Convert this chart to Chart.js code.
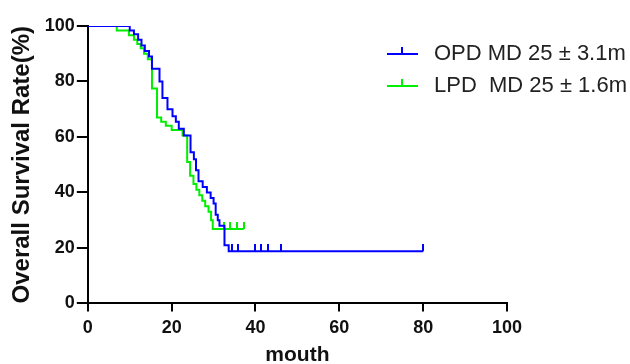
<!DOCTYPE html>
<html>
<head>
  <title>Overall Survival</title>
  <script src="https://cdn.jsdelivr.net/npm/chart.js"></script>
  <style>
    body { margin: 0; background: #fff; }
    #wrap { width: 630px; height: 364px; }
  </style>
</head>
<body>
  <div id="wrap"><canvas id="survChart"></canvas></div>

  <script>
    // Kaplan-Meier steps (month, survival % after the drop)
    const opdMonths   = [0, 10.0, 11.0, 12.0, 12.8, 13.6, 14.6, 15.3, 17.1, 17.8, 19.0, 20.2, 21.0, 21.7, 22.9, 24.5, 25.3, 25.8, 26.4, 27.4, 28.4, 29.3, 30.0, 30.5, 31.0, 31.4, 32.6, 33.6, 80];
    const opdSurvival = [100, 98.4, 97, 95, 93, 91, 89, 84.6, 80, 74, 70, 67.5, 65.5, 63, 60.5, 54.5, 52, 48, 44, 42, 40, 38, 36, 32, 30, 28, 21, 18.8, 18.8];
    const lpdMonths   = [0, 6.9, 9.8, 11.0, 11.8, 12.6, 13.4, 14.3, 15.3, 16.5, 17.5, 18.6, 20.0, 22.6, 23.7, 24.4, 25.2, 25.9, 26.6, 27.3, 28.0, 28.8, 29.4, 29.8, 37.2];
    const lpdSurvival = [100, 98.4, 96.7, 95, 93.5, 92, 90, 88, 77.5, 67, 65.5, 64, 62.5, 60.5, 51, 46, 43, 41, 39, 37, 35, 33, 30, 26.8, 26.8];

    // censored observations
    const opdCensorMonths   = [34.5, 35.8, 40.0, 41.2, 43.0, 46.0, 80.0];
    const opdCensorSurvival = [18.8, 18.8, 18.8, 18.8, 18.8, 18.8, 18.8];
    const lpdCensorMonths   = [32.5, 34.0, 35.6, 37.2];
    const lpdCensorSurvival = [26.8, 26.8, 26.8, 26.8];

    const xTicks = [0, 20, 40, 60, 80, 100];
    const yTicks = [0, 20, 40, 60, 80, 100];

    const seriesLabels = ['OPD MD 25 \u00b1 3.1m', 'LPD  MD 25 \u00b1 1.6m'];
    const blue = '#0000ff';
    const green = '#00ee00';

    const toPoints = (xs, ys) => xs.map((x, i) => ({ x: x, y: ys[i] }));

    // small upward tick used as the censor mark
    function censorMark(color) {
      const c = document.createElement('canvas');
      c.width = 2;
      c.height = 14;
      const g = c.getContext('2d');
      g.fillStyle = color;
      g.fillRect(0, 0, 2, 7);
      return c;
    }

    // legend drawn inside the chart area, top right
    const kmLegend = {
      id: 'kmLegend',
      afterDraw(chart) {
        const ctx = chart.ctx;
        ctx.save();
        [0, 1].forEach((i) => {
          const ds = chart.data.datasets[i];
          const y = 54 + i * 32;
          ctx.strokeStyle = ds.borderColor;
          ctx.lineWidth = 2;
          ctx.beginPath();
          ctx.moveTo(387, y);
          ctx.lineTo(418, y);
          ctx.moveTo(402, y);
          ctx.lineTo(402, y - 7);
          ctx.stroke();
          ctx.fillStyle = '#222';
          ctx.font = '22px "Liberation Sans", Arial, sans-serif';
          ctx.textBaseline = 'middle';
          ctx.fillText(ds.label, 434, y);
        });
        ctx.restore();
      }
    };

    const ctx = document.getElementById('survChart').getContext('2d');
    new Chart(ctx, {
      type: 'line',
      data: {
        datasets: [
          {
            label: seriesLabels[0],
            data: toPoints(opdMonths, opdSurvival),
            borderColor: blue,
            borderWidth: 2,
            stepped: true,
            pointRadius: 0,
            fill: false
          },
          {
            label: seriesLabels[1],
            data: toPoints(lpdMonths, lpdSurvival),
            borderColor: green,
            borderWidth: 2,
            stepped: true,
            pointRadius: 0,
            fill: false
          },
          {
            label: 'OPD censored',
            data: toPoints(opdCensorMonths, opdCensorSurvival),
            showLine: false,
            pointStyle: censorMark(blue),
            pointRadius: 4
          },
          {
            label: 'LPD censored',
            data: toPoints(lpdCensorMonths, lpdCensorSurvival),
            showLine: false,
            pointStyle: censorMark(green),
            pointRadius: 4
          }
        ]
      },
      options: {
        responsive: true,
        maintainAspectRatio: false,
        animation: false,
        layout: {
          padding: { left: 8, right: 123, top: 26, bottom: -2 }
        },
        plugins: {
          legend: { display: false },
          tooltip: { enabled: false }
        },
        scales: {
          x: {
            type: 'linear',
            min: 0,
            max: 100,
            afterBuildTicks: (axis) => { axis.ticks = xTicks.map(v => ({ value: v })); },
            border: { display: true, color: '#000', width: 2 },
            grid: { drawOnChartArea: false, drawTicks: true, tickLength: 8, color: '#000', lineWidth: 2 },
            ticks: {
              color: '#111',
              padding: 6,
              maxRotation: 0,
              font: { family: '"Liberation Sans", Arial, sans-serif', size: 18, weight: 'bold' }
            },
            title: {
              display: true,
              text: 'mouth',
              color: '#111',
              padding: { top: 0, bottom: 0 },
              font: { family: '"Liberation Sans", Arial, sans-serif', size: 21, weight: 'bold', lineHeight: 1 }
            }
          },
          y: {
            type: 'linear',
            min: 0,
            max: 100,
            afterBuildTicks: (axis) => { axis.ticks = yTicks.map(v => ({ value: v })); },
            border: { display: true, color: '#000', width: 2 },
            grid: { drawOnChartArea: false, drawTicks: true, tickLength: 11, color: '#000', lineWidth: 2 },
            ticks: {
              color: '#111',
              padding: 2,
              font: { family: '"Liberation Sans", Arial, sans-serif', size: 18, weight: 'bold' }
            },
            title: {
              display: true,
              text: 'Overall Survival Rate(%)',
              color: '#111',
              padding: { top: 0, bottom: 6 },
              font: { family: '"Liberation Sans", Arial, sans-serif', size: 24, weight: 'bold' }
            }
          }
        }
      },
      plugins: [kmLegend]
    });
  </script>
</body>
</html>
